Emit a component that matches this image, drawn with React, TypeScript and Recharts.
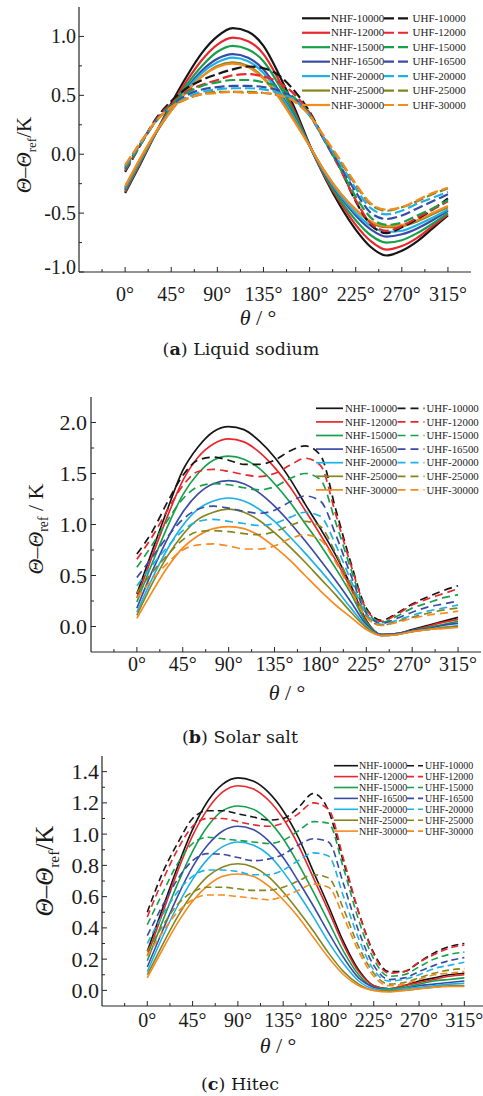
import { Line, LineChart, XAxis, YAxis } from 'recharts'

const angles = [0, 15, 30, 45, 60, 75, 90, 105, 120, 135, 150, 165, 180, 195, 210, 225, 240, 255, 270, 285, 300, 315]
const heatFluxes = ['10000', '12000', '15000', '16500', '20000', '25000', '30000']
const seriesColors = ['#151515', '#e9262b', '#17a04b', '#3a4ba5', '#1db2e6', '#85851f', '#f58a1f']
const angleTicks = [-22.5, 0, 22.5, 45, 67.5, 90, 112.5, 135, 157.5, 180, 202.5, 225, 247.5, 270, 292.5, 315]

// (a) Liquid sodium
const sodiumYTicks = [-1, -0.75, -0.5, -0.25, 0, 0.25, 0.5, 0.75, 1]
const sodiumNhf10000 = [-0.33, -0.08, 0.18, 0.43, 0.66, 0.86, 1.0, 1.07, 1.04, 0.92, 0.68, 0.4, 0.08, -0.2, -0.44, -0.64, -0.79, -0.86, -0.82, -0.74, -0.63, -0.52]
const sodiumNhf12000 = [-0.32, -0.07, 0.18, 0.41, 0.62, 0.8, 0.93, 0.99, 0.96, 0.85, 0.63, 0.37, 0.07, -0.19, -0.41, -0.6, -0.74, -0.81, -0.78, -0.71, -0.61, -0.51]
const sodiumNhf15000 = [-0.31, -0.06, 0.18, 0.4, 0.59, 0.75, 0.87, 0.92, 0.89, 0.79, 0.59, 0.35, 0.07, -0.18, -0.39, -0.56, -0.69, -0.75, -0.73, -0.67, -0.59, -0.5]
const sodiumNhf16500 = [-0.3, -0.05, 0.18, 0.38, 0.56, 0.71, 0.81, 0.85, 0.82, 0.72, 0.54, 0.32, 0.07, -0.17, -0.36, -0.52, -0.64, -0.7, -0.68, -0.63, -0.56, -0.48]
const sodiumNhf20000 = [-0.29, -0.05, 0.18, 0.38, 0.55, 0.69, 0.78, 0.82, 0.79, 0.69, 0.52, 0.31, 0.07, -0.16, -0.35, -0.5, -0.61, -0.66, -0.65, -0.6, -0.54, -0.47]
const sodiumNhf25000 = [-0.28, -0.04, 0.18, 0.37, 0.53, 0.66, 0.75, 0.78, 0.75, 0.65, 0.49, 0.29, 0.07, -0.15, -0.33, -0.47, -0.58, -0.62, -0.61, -0.57, -0.51, -0.45]
const sodiumNhf30000 = [-0.27, -0.03, 0.19, 0.37, 0.53, 0.66, 0.74, 0.77, 0.74, 0.64, 0.48, 0.28, 0.07, -0.15, -0.33, -0.47, -0.57, -0.61, -0.6, -0.56, -0.5, -0.44]
const sodiumUhf10000 = [-0.15, 0.08, 0.3, 0.45, 0.56, 0.63, 0.68, 0.72, 0.745, 0.73, 0.67, 0.54, 0.36, 0.12, -0.12, -0.4, -0.6, -0.67, -0.62, -0.55, -0.47, -0.375]
const sodiumUhf12000 = [-0.14, 0.08, 0.29, 0.43, 0.53, 0.59, 0.63, 0.67, 0.68, 0.66, 0.61, 0.51, 0.35, 0.11, -0.13, -0.39, -0.59, -0.65, -0.61, -0.54, -0.47, -0.4]
const sodiumUhf15000 = [-0.13, 0.08, 0.28, 0.42, 0.52, 0.58, 0.61, 0.63, 0.63, 0.61, 0.57, 0.48, 0.34, 0.11, -0.12, -0.36, -0.54, -0.6, -0.58, -0.52, -0.46, -0.39]
const sodiumUhf16500 = [-0.12, 0.09, 0.28, 0.41, 0.5, 0.55, 0.57, 0.58, 0.58, 0.57, 0.54, 0.47, 0.33, 0.11, -0.1, -0.32, -0.5, -0.55, -0.52, -0.46, -0.4, -0.34]
const sodiumUhf20000 = [-0.11, 0.09, 0.28, 0.4, 0.48, 0.53, 0.55, 0.56, 0.56, 0.55, 0.52, 0.46, 0.33, 0.12, -0.08, -0.29, -0.46, -0.51, -0.48, -0.42, -0.37, -0.32]
const sodiumUhf25000 = [-0.1, 0.1, 0.28, 0.4, 0.47, 0.51, 0.53, 0.53, 0.53, 0.52, 0.5, 0.45, 0.33, 0.13, -0.06, -0.26, -0.43, -0.48, -0.45, -0.4, -0.34, -0.29]
const sodiumUhf30000 = [-0.09, 0.1, 0.28, 0.4, 0.47, 0.51, 0.52, 0.53, 0.52, 0.52, 0.5, 0.45, 0.33, 0.14, -0.05, -0.25, -0.42, -0.47, -0.45, -0.39, -0.33, -0.285]

// (b) Solar salt
const solarYTicks = [0, 0.25, 0.5, 0.75, 1, 1.25, 1.5, 1.75, 2]
const solarNhf10000 = [0.32, 0.74, 1.15, 1.53, 1.76, 1.91, 1.96, 1.93, 1.82, 1.66, 1.45, 1.2, 0.96, 0.7, 0.4, 0.06, -0.08, -0.07, -0.03, 0.01, 0.05, 0.09]
const solarNhf12000 = [0.28, 0.69, 1.08, 1.43, 1.66, 1.79, 1.84, 1.81, 1.71, 1.56, 1.37, 1.14, 0.9, 0.65, 0.37, 0.05, -0.08, -0.07, -0.04, 0.0, 0.04, 0.07]
const solarNhf15000 = [0.24, 0.62, 0.98, 1.29, 1.5, 1.63, 1.67, 1.64, 1.55, 1.4, 1.22, 1.01, 0.8, 0.57, 0.32, 0.04, -0.08, -0.07, -0.04, -0.01, 0.02, 0.05]
const solarNhf16500 = [0.18, 0.54, 0.86, 1.12, 1.3, 1.4, 1.43, 1.4, 1.31, 1.18, 1.02, 0.84, 0.65, 0.45, 0.24, 0.02, -0.08, -0.07, -0.04, -0.02, 0.01, 0.03]
const solarNhf20000 = [0.14, 0.47, 0.76, 0.99, 1.15, 1.23, 1.26, 1.23, 1.15, 1.03, 0.88, 0.72, 0.55, 0.37, 0.18, 0.0, -0.09, -0.08, -0.05, -0.03, -0.01, 0.01]
const solarNhf25000 = [0.11, 0.42, 0.69, 0.9, 1.05, 1.12, 1.15, 1.12, 1.04, 0.92, 0.78, 0.63, 0.47, 0.31, 0.14, -0.01, -0.09, -0.08, -0.05, -0.03, -0.01, 0.0]
const solarNhf30000 = [0.08, 0.34, 0.58, 0.77, 0.89, 0.96, 0.98, 0.96, 0.89, 0.78, 0.65, 0.5, 0.35, 0.21, 0.09, -0.03, -0.09, -0.08, -0.05, -0.03, -0.02, -0.01]
const solarUhf10000 = [0.71, 0.93, 1.22, 1.48, 1.63, 1.66, 1.63, 1.59, 1.59, 1.63, 1.72, 1.77, 1.68, 1.15, 0.62, 0.18, 0.06, 0.13, 0.22, 0.29, 0.35, 0.4]
const solarUhf12000 = [0.66, 0.88, 1.14, 1.38, 1.52, 1.54, 1.52, 1.49, 1.47, 1.5, 1.58, 1.65, 1.58, 1.1, 0.6, 0.17, 0.05, 0.12, 0.21, 0.27, 0.32, 0.37]
const solarUhf15000 = [0.58, 0.8, 1.04, 1.25, 1.37, 1.4, 1.39, 1.36, 1.34, 1.37, 1.45, 1.5, 1.44, 1.02, 0.56, 0.15, 0.04, 0.1, 0.18, 0.23, 0.28, 0.31]
const solarUhf16500 = [0.48, 0.68, 0.88, 1.05, 1.15, 1.18, 1.16, 1.13, 1.11, 1.14, 1.22, 1.28, 1.23, 0.9, 0.5, 0.13, 0.03, 0.08, 0.14, 0.19, 0.22, 0.25]
const solarUhf20000 = [0.4, 0.6, 0.78, 0.94, 1.03, 1.05, 1.03, 1.01, 0.99, 1.01, 1.07, 1.12, 1.08, 0.8, 0.45, 0.12, 0.02, 0.06, 0.11, 0.15, 0.18, 0.21]
const solarUhf25000 = [0.33, 0.53, 0.7, 0.85, 0.93, 0.94, 0.93, 0.91, 0.9, 0.93, 0.99, 1.03, 0.98, 0.72, 0.4, 0.1, 0.01, 0.05, 0.09, 0.13, 0.16, 0.18]
const solarUhf30000 = [0.28, 0.46, 0.62, 0.75, 0.8, 0.81, 0.79, 0.76, 0.76, 0.79, 0.86, 0.9, 0.85, 0.63, 0.35, 0.09, 0.01, 0.04, 0.08, 0.11, 0.13, 0.15]

// (c) Hitec
const hitecYTicks = [0, 0.1, 0.2, 0.3, 0.4, 0.5, 0.6, 0.7, 0.8, 0.9, 1, 1.1, 1.2, 1.3, 1.4]
const hitecNhf10000 = [0.25, 0.52, 0.79, 1.03, 1.21, 1.32, 1.36, 1.34, 1.27, 1.15, 0.98, 0.76, 0.54, 0.31, 0.13, 0.03, 0.01, 0.03, 0.06, 0.08, 0.1, 0.11]
const hitecNhf12000 = [0.22, 0.49, 0.76, 0.99, 1.16, 1.27, 1.31, 1.29, 1.22, 1.1, 0.93, 0.72, 0.51, 0.29, 0.12, 0.03, 0.01, 0.03, 0.05, 0.07, 0.09, 0.1]
const hitecNhf15000 = [0.19, 0.44, 0.68, 0.89, 1.05, 1.15, 1.18, 1.16, 1.09, 0.97, 0.81, 0.63, 0.44, 0.25, 0.1, 0.02, 0.01, 0.02, 0.04, 0.06, 0.07, 0.08]
const hitecNhf16500 = [0.15, 0.38, 0.6, 0.79, 0.93, 1.02, 1.05, 1.03, 0.96, 0.85, 0.7, 0.54, 0.37, 0.21, 0.08, 0.02, 0.0, 0.01, 0.03, 0.04, 0.05, 0.06]
const hitecNhf20000 = [0.12, 0.34, 0.54, 0.71, 0.84, 0.92, 0.95, 0.93, 0.87, 0.76, 0.62, 0.47, 0.31, 0.17, 0.06, 0.01, 0.0, 0.01, 0.02, 0.03, 0.04, 0.045]
const hitecNhf25000 = [0.1, 0.29, 0.47, 0.62, 0.73, 0.79, 0.81, 0.79, 0.73, 0.63, 0.51, 0.38, 0.24, 0.12, 0.04, 0.0, -0.005, 0.0, 0.01, 0.02, 0.03, 0.03]
const hitecNhf30000 = [0.08, 0.26, 0.43, 0.57, 0.67, 0.73, 0.745, 0.73, 0.67, 0.58, 0.47, 0.34, 0.21, 0.1, 0.03, 0.0, -0.01, 0.0, 0.01, 0.02, 0.025, 0.025]
const hitecUhf10000 = [0.5, 0.75, 0.94, 1.1, 1.15, 1.15, 1.13, 1.11, 1.09, 1.1, 1.17, 1.26, 1.15, 0.82, 0.5, 0.24, 0.12, 0.12, 0.18, 0.24, 0.28, 0.3]
const hitecUhf12000 = [0.47, 0.7, 0.9, 1.05, 1.1, 1.1, 1.08, 1.06, 1.05, 1.07, 1.13, 1.2, 1.16, 0.84, 0.5, 0.23, 0.11, 0.12, 0.18, 0.23, 0.27, 0.29]
const hitecUhf15000 = [0.42, 0.62, 0.81, 0.94, 0.98, 0.97, 0.96, 0.95, 0.94, 0.96, 1.02, 1.08, 1.07, 0.78, 0.45, 0.2, 0.09, 0.1, 0.15, 0.2, 0.23, 0.245]
const hitecUhf16500 = [0.35, 0.54, 0.71, 0.83, 0.875, 0.87, 0.85, 0.83, 0.84, 0.87, 0.93, 0.97, 0.95, 0.68, 0.38, 0.16, 0.07, 0.08, 0.12, 0.16, 0.19, 0.21]
const hitecUhf20000 = [0.3, 0.48, 0.63, 0.73, 0.77, 0.77, 0.76, 0.74, 0.74, 0.77, 0.83, 0.88, 0.86, 0.6, 0.33, 0.13, 0.06, 0.07, 0.1, 0.14, 0.16, 0.18]
const hitecUhf25000 = [0.25, 0.41, 0.55, 0.63, 0.66, 0.66, 0.65, 0.64, 0.64, 0.66, 0.7, 0.74, 0.72, 0.52, 0.28, 0.11, 0.04, 0.05, 0.08, 0.11, 0.13, 0.14]
const hitecUhf30000 = [0.22, 0.37, 0.5, 0.58, 0.61, 0.61, 0.6, 0.59, 0.58, 0.6, 0.64, 0.68, 0.66, 0.47, 0.25, 0.09, 0.03, 0.04, 0.07, 0.1, 0.11, 0.12]

const AXIS = '#262626'
const SERIF = '"Liberation Serif", "Times New Roman", serif'
const CAPTION_FONT = '"DejaVu Serif", serif'

function BottomTick(props: any) {
  const { x, y, payload, labelDy, fontSize } = props
  const v = payload.value
  const major = v % 45 === 0
  return (
    <g>
      <line x1={x} x2={x} y1={y} y2={y - (major ? 5 : 3)} stroke={AXIS} strokeWidth={1} />
      {major ? (
        <text x={x} y={y + labelDy} textAnchor="middle" fontFamily={SERIF} fontSize={fontSize} fill="#1a1a1a">
          {`${v}°`}
        </text>
      ) : null}
    </g>
  )
}

function TopTick(props: any) {
  const { x, y, payload } = props
  const major = payload.value % 45 === 0
  return <line x1={x} x2={x} y1={y} y2={y + (major ? 5 : 3)} stroke={AXIS} strokeWidth={1} />
}

function isMajor(v: number, step: number) {
  return Math.abs(v / step - Math.round(v / step)) < 1e-6
}

function LeftTick(props: any) {
  const { x, y, payload, step, fontSize, gap, bottomValue } = props
  const v = payload.value
  const major = isMajor(v, step)
  const lift = v === bottomValue ? -5 : 0
  return (
    <g>
      <line x1={x} x2={x + (major ? 5 : 3)} y1={y} y2={y} stroke={AXIS} strokeWidth={1} />
      {major ? (
        <text x={x - gap} y={y + fontSize * 0.34 + lift} textAnchor="end" fontFamily={SERIF} fontSize={fontSize} fill="#1a1a1a">
          {v.toFixed(1)}
        </text>
      ) : null}
    </g>
  )
}

function RightTick(props: any) {
  const { x, y, payload, step } = props
  const major = isMajor(payload.value, step)
  return <line x1={x} x2={x - (major ? 5 : 3)} y1={y} y2={y} stroke={AXIS} strokeWidth={1} />
}

type LegendGeom = { lx: number; len: number; tx: number; dx: number; dashLen: number; tx2: number; y0: number; step: number; fontSize: number }

type PanelConfig = {
  nhf: number[][]
  uhf: number[][]
  plotTop: number
  plotBottom: number
  plotLeft: number
  plotRight: number
  width: number
  yDomain: [number, number]
  yTicks: number[]
  yStep: number
  yFont: number
  yGap: number
  bottomValue: number
  xFont: number
  xLabelDy: number
  strokeWidth: number
  dash: string
}

function Panel(p: PanelConfig) {
  const rows = angles.map((angle, i) => {
    const row: Record<string, number> = { angle }
    p.nhf.forEach((s, k) => {
      row[`nhf${k}`] = s[i]
    })
    p.uhf.forEach((s, k) => {
      row[`uhf${k}`] = s[i]
    })
    return row
  })
  const chartTop = p.plotTop - 5
  const height = p.plotBottom - chartTop + 45
  const axisLine = { stroke: AXIS, strokeWidth: 1.2 }
  return (
    <div style={{ position: 'absolute', left: 0, top: chartTop }}>
      <LineChart width={p.width} height={height} data={rows} margin={{ top: 5, right: p.width - p.plotRight, bottom: 0, left: 0 }}>
        <XAxis
          dataKey="angle"
          type="number"
          domain={[-45, 337.5]}
          allowDataOverflow
          ticks={angleTicks}
          interval={0}
          height={45}
          tickSize={0}
          tickMargin={0}
          tickLine={false}
          axisLine={axisLine}
          tick={(props: any) => <BottomTick {...props} labelDy={p.xLabelDy} fontSize={p.xFont} />}
        />
        <XAxis
          xAxisId="top"
          orientation="top"
          dataKey="angle"
          type="number"
          domain={[-45, 337.5]}
          allowDataOverflow
          ticks={angleTicks}
          interval={0}
          height={0}
          tickSize={0}
          tickMargin={0}
          tickLine={false}
          axisLine={axisLine}
          tick={(props: any) => <TopTick {...props} />}
        />
        <YAxis
          type="number"
          domain={p.yDomain}
          allowDataOverflow
          ticks={p.yTicks}
          interval={0}
          width={p.plotLeft}
          tickSize={0}
          tickMargin={0}
          tickLine={false}
          axisLine={axisLine}
          tick={(props: any) => (
            <LeftTick {...props} step={p.yStep} fontSize={p.yFont} gap={p.yGap} bottomValue={p.bottomValue} />
          )}
        />
        <YAxis
          yAxisId="right"
          orientation="right"
          type="number"
          domain={p.yDomain}
          allowDataOverflow
          ticks={p.yTicks}
          interval={0}
          width={0}
          tickSize={0}
          tickMargin={0}
          tickLine={false}
          axisLine={axisLine}
          tick={(props: any) => <RightTick {...props} step={p.yStep} />}
        />
        {heatFluxes.map((hf, k) => (
          <Line
            key={`n${hf}`}
            type="monotone"
            dataKey={`nhf${k}`}
            stroke={seriesColors[k]}
            strokeWidth={p.strokeWidth}
            dot={false}
            activeDot={false}
            isAnimationActive={false}
          />
        ))}
        {heatFluxes.map((hf, k) => (
          <Line
            key={`u${hf}`}
            type="monotone"
            dataKey={`uhf${k}`}
            stroke={seriesColors[k]}
            strokeWidth={p.strokeWidth}
            strokeDasharray={p.dash}
            dot={false}
            activeDot={false}
            isAnimationActive={false}
          />
        ))}
      </LineChart>
    </div>
  )
}

function LegendBlock({ g, strokeWidth, dash }: { g: LegendGeom; strokeWidth: number; dash: string }) {
  return (
    <g>
      {heatFluxes.map((hf, k) => {
        const y = g.y0 + k * g.step
        return (
          <g key={hf}>
            <line x1={g.lx} x2={g.lx + g.len} y1={y} y2={y} stroke={seriesColors[k]} strokeWidth={strokeWidth} />
            <text x={g.tx} y={y + g.fontSize * 0.34} fontFamily={SERIF} fontSize={g.fontSize} fill="#222">
              {`NHF-${hf}`}
            </text>
            <line
              x1={g.dx}
              x2={g.dx + g.dashLen}
              y1={y}
              y2={y}
              stroke={seriesColors[k]}
              strokeWidth={strokeWidth}
              strokeDasharray={dash}
            />
            <text x={g.tx2} y={y + g.fontSize * 0.34} fontFamily={SERIF} fontSize={g.fontSize} fill="#222">
              {`UHF-${hf}`}
            </text>
          </g>
        )
      })}
    </g>
  )
}

function YTitle({ cx, cy, size, spaced }: { cx: number; cy: number; size: number; spaced?: boolean }) {
  return (
    <text
      transform={`translate(${cx},${cy}) rotate(-90)`}
      textAnchor="middle"
      fontFamily={SERIF}
      fontSize={size}
      fill="#1a1a1a"
    >
      <tspan fontStyle="italic">Θ</tspan>
      <tspan>–</tspan>
      <tspan fontStyle="italic">Θ</tspan>
      <tspan fontSize={size * 0.62} dy={size * 0.22}>
        ref
      </tspan>
      <tspan dy={-size * 0.22}>{spaced ? ' / K' : '/K'}</tspan>
    </text>
  )
}

function XTitle({ x, y, size }: { x: number; y: number; size: number }) {
  return (
    <text x={x} y={y} textAnchor="middle" fontFamily={SERIF} fontSize={size} fill="#1a1a1a">
      <tspan fontStyle="italic">θ</tspan>
      <tspan> / °</tspan>
    </text>
  )
}

function Caption({ x, y, letter, name }: { x: number; y: number; letter: string; name: string }) {
  return (
    <text x={x} y={y} textAnchor="middle" fontFamily={CAPTION_FONT} fontSize={17.5} fill="#1a1a1a">
      <tspan>(</tspan>
      <tspan fontWeight="bold">{letter}</tspan>
      <tspan>{`) ${name}`}</tspan>
    </text>
  )
}

export default function App() {
  return (
    <div style={{ position: 'absolute', left: 0, top: 0, width: 483, height: 1096, overflow: 'hidden', background: '#fff' }}>
      <Panel
        nhf={[sodiumNhf10000, sodiumNhf12000, sodiumNhf15000, sodiumNhf16500, sodiumNhf20000, sodiumNhf25000, sodiumNhf30000]}
        uhf={[sodiumUhf10000, sodiumUhf12000, sodiumUhf15000, sodiumUhf16500, sodiumUhf20000, sodiumUhf25000, sodiumUhf30000]}
        plotTop={7}
        plotBottom={272}
        plotLeft={79}
        plotRight={471}
        width={483}
        yDomain={[-1, 1.25]}
        yTicks={sodiumYTicks}
        yStep={0.5}
        yFont={20}
        yGap={3}
        bottomValue={-1}
        xFont={20}
        xLabelDy={29}
        strokeWidth={2.2}
        dash="10 4"
      />
      <Panel
        nhf={[solarNhf10000, solarNhf12000, solarNhf15000, solarNhf16500, solarNhf20000, solarNhf25000, solarNhf30000]}
        uhf={[solarUhf10000, solarUhf12000, solarUhf15000, solarUhf16500, solarUhf20000, solarUhf25000, solarUhf30000]}
        plotTop={397}
        plotBottom={652}
        plotLeft={91}
        plotRight={481}
        width={483}
        yDomain={[-0.25, 2.25]}
        yTicks={solarYTicks}
        yStep={0.5}
        yFont={22}
        yGap={4}
        bottomValue={-99}
        xFont={20}
        xLabelDy={19}
        strokeWidth={1.7}
        dash="8 5"
      />
      <Panel
        nhf={[hitecNhf10000, hitecNhf12000, hitecNhf15000, hitecNhf16500, hitecNhf20000, hitecNhf25000, hitecNhf30000]}
        uhf={[hitecUhf10000, hitecUhf12000, hitecUhf15000, hitecUhf16500, hitecUhf20000, hitecUhf25000, hitecUhf30000]}
        plotTop={756}
        plotBottom={1006}
        plotLeft={102}
        plotRight={487}
        width={492}
        yDomain={[-0.1, 1.5]}
        yTicks={hitecYTicks}
        yStep={0.2}
        yFont={22}
        yGap={3}
        bottomValue={-99}
        xFont={20}
        xLabelDy={21}
        strokeWidth={1.6}
        dash="7 4"
      />
      <svg width={483} height={1096} style={{ position: 'absolute', left: 0, top: 0, pointerEvents: 'none' }}>
        <LegendBlock
          g={{ lx: 302, len: 28, tx: 331, dx: 384, dashLen: 25, tx2: 412.5, y0: 18.3, step: 14.45, fontSize: 11 }}
          strokeWidth={2.2}
          dash="10 4"
        />
        <LegendBlock
          g={{ lx: 316, len: 27, tx: 345, dx: 397.5, dashLen: 27, tx2: 426.5, y0: 408.3, step: 13.6, fontSize: 10.8 }}
          strokeWidth={1.7}
          dash="8 5"
        />
        <LegendBlock
          g={{ lx: 334, len: 24, tx: 359, dx: 407, dashLen: 16, tx2: 425, y0: 765.7, step: 10.9, fontSize: 10 }}
          strokeWidth={1.6}
          dash="7 4"
        />
        <YTitle cx={31} cy={155} size={21} />
        <YTitle cx={43} cy={529} size={22} spaced />
        <YTitle cx={53} cy={871} size={25} />
        <XTitle x={258} y={325} size={22} />
        <XTitle x={287} y={700} size={22} />
        <XTitle x={278} y={1053} size={22} />
        <Caption x={241} y={355} letter="a" name="Liquid sodium" />
        <Caption x={240} y={743} letter="b" name="Solar salt" />
        <Caption x={240} y={1090} letter="c" name="Hitec" />
      </svg>
    </div>
  )
}
